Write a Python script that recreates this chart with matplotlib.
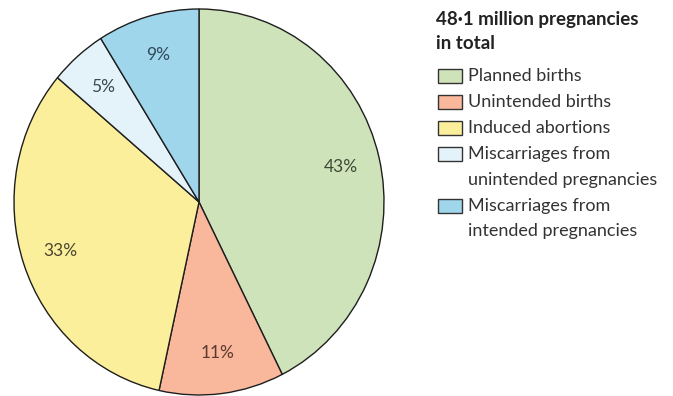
import matplotlib.pyplot as plt
from matplotlib.patches import Rectangle

# ── data ─────────────────────────────────────────────────────────────────────
categories = ["Planned births", "Unintended births", "Induced abortions",
              "Miscarriages from\nunintended pregnancies",
              "Miscarriages from\nintended pregnancies"]
shares     = [43, 11, 33, 5, 9]
pct_labels = ["43%", "11%", "33%", "5%", "9%"]
colors     = ["#cfe3bb", "#f9b79b", "#fcef9c", "#e4f3fa", "#a0d6eb"]
txt_colors = ["#3e4a36", "#5b3a2f", "#4a4630", "#3a4850", "#2f4a5a"]
title      = "48·1 million pregnancies\nin total"

plt.rcParams["font.family"] = ["Lato", "DejaVu Sans"]

W, H = 673, 396
fig = plt.figure(figsize=(W/100, H/100), dpi=100)
ax = fig.add_axes([14/W, 1/H, 370/W, 386/H])

wedges, texts = ax.pie(shares, labels=pct_labels, colors=colors, startangle=90,
                       counterclock=False, labeldistance=0.79,
                       wedgeprops=dict(edgecolor="#1e1e1e", linewidth=1.0))
for t, c in zip(texts, txt_colors):
    t.set_color(c); t.set_fontsize(12.5); t.set_ha("center"); t.set_va("center")
ax.set_aspect("auto")
ax.set_xlim(-1, 1); ax.set_ylim(-1, 1)
for w in wedges:
    w.set_clip_on(False)

# ── legend (drawn by hand, px from top) ──────────────────────────────────────
step = 25.9
y = 19
for line in title.split("\n"):
    fig.text(436/W, 1 - y/H, line, fontsize=13.5, fontweight="bold",
             color="#222222", va="center", ha="left")
    y += 24.5
y = 76
for lab, c in zip(categories, colors):
    fig.patches.append(Rectangle((438/W, 1 - (y + 7)/H), 24/W, 14/H,
                                 transform=fig.transFigure, facecolor=c,
                                 edgecolor="#333333", linewidth=1.0))
    for line in lab.split("\n"):
        fig.text(468/W, 1 - y/H, line, fontsize=13, color="#333333",
                 va="center", ha="left")
        y += step

fig.savefig("out.png", dpi=100)
